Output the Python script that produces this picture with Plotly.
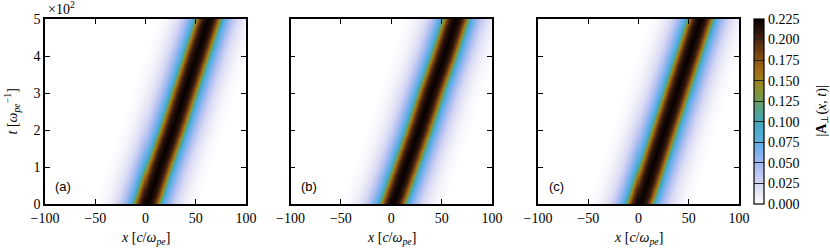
import numpy as np
import plotly.graph_objects as go

# ---------------- data ----------------
panel_labels = ["(a)", "(b)", "(c)"]
time_knots = [0, 100, 200, 300, 400, 500]
pulse_centers_a = [1, 13, 26, 38, 50, 62]
pulse_centers_b = [1, 14, 27, 39, 52, 64]
pulse_centers_c = [1, 13, 25, 37, 49, 61]
profile_offsets = [-50, -45, -40, -35, -30, -25, -22, -20, -18, -16, -14, -12, -10, -8, -5, 0,
                   5, 8, 10, 12, 14, 16, 18, 20, 22, 25, 30, 35, 40, 45, 50]
profile_values = [0.001, 0.003, 0.006, 0.012, 0.022, 0.036, 0.048, 0.058, 0.068, 0.080, 0.100,
                  0.135, 0.168, 0.190, 0.212, 0.225,
                  0.212, 0.190, 0.168, 0.135, 0.100, 0.080, 0.068, 0.058, 0.048, 0.036,
                  0.022, 0.012, 0.006, 0.003, 0.001]
x_ticks = [-100, -50, 0, 50, 100]
x_tick_text = ["−100", "−50", "0", "50", "100"]
t_ticks = [0, 100, 200, 300, 400, 500]
t_tick_text = ["0", "1", "2", "3", "4", "5"]
cbar_ticks = [0.0, 0.025, 0.05, 0.075, 0.1, 0.125, 0.15, 0.175, 0.2, 0.225]
cbar_tick_text = ["0.000", "0.025", "0.050", "0.075", "0.100", "0.125",
                  "0.150", "0.175", "0.200", "0.225"]

# ---------------- build grids ----------------
x_grid = np.arange(-100, 100.5, 1.0)
t_grid = np.arange(0, 502.5, 5.0)


def field(centers):
    c_t = np.interp(t_grid, time_knots, centers)
    z = np.array([np.interp(x_grid - c, profile_offsets, profile_values, left=0, right=0)
                  for c in c_t])
    return z


fields = [field(pulse_centers_a), field(pulse_centers_b), field(pulse_centers_c)]

colorscale = [
    [0.00, "#ffffff"],
    [0.04, "#eeedf8"],
    [0.11, "#d6d8f4"],
    [0.17, "#b9c4f1"],
    [0.24, "#95b6ef"],
    [0.30, "#6fb0ec"],
    [0.36, "#55acdc"],
    [0.42, "#48a8c4"],
    [0.47, "#48a5a2"],
    [0.53, "#5ea078"],
    [0.58, "#7a9848"],
    [0.64, "#958a22"],
    [0.69, "#a07816"],
    [0.75, "#9a6010"],
    [0.80, "#7e4812"],
    [0.86, "#5a3010"],
    [0.92, "#34180c"],
    [1.00, "#060000"],
]

W, H = 830, 250
x_domains = [[45 / W, 246 / W], [290.5 / W, 492 / W], [538 / W, 739 / W]]
y_domain = [1 - 204 / H, 1 - 19 / H]
serif = "Liberation Serif"

fig = go.Figure()
for i, z in enumerate(fields):
    xa = "x" if i == 0 else f"x{i+1}"
    ya = "y" if i == 0 else f"y{i+1}"
    fig.add_trace(go.Heatmap(
        x=x_grid, y=t_grid, z=z, xaxis=xa, yaxis=ya,
        colorscale=colorscale, zmin=0, zmax=0.225, zsmooth="best",
        showscale=(i == 2), hoverinfo="skip",
        colorbar=dict(
            x=754 / W, xanchor="left", xpad=0,
            y=(y_domain[0] + y_domain[1]) / 2, yanchor="middle", ypad=0,
            len=y_domain[1] - y_domain[0], lenmode="fraction",
            thickness=10, outlinewidth=1.2, outlinecolor="black",
            tickvals=cbar_ticks, ticktext=cbar_tick_text,
            ticks="inside", ticklen=10, tickwidth=1, tickcolor="#222",
            tickfont=dict(family=serif, size=14, color="black"),
        ),
    ))

axis_common = dict(showline=True, linecolor="black", linewidth=1.5, mirror="ticks",
                   ticks="inside", ticklen=5, tickwidth=1, tickcolor="black",
                   showgrid=False, zeroline=False, automargin=False,
                   tickfont=dict(family=serif, size=14, color="black"))
layout = dict(width=W, height=H, margin=dict(l=0, r=0, t=0, b=0, autoexpand=False),
              paper_bgcolor="white", plot_bgcolor="white", showlegend=False)
for i in range(3):
    sx = "xaxis" if i == 0 else f"xaxis{i+1}"
    sy = "yaxis" if i == 0 else f"yaxis{i+1}"
    ya = "y" if i == 0 else f"y{i+1}"
    xa = "x" if i == 0 else f"x{i+1}"
    layout[sx] = dict(axis_common, domain=x_domains[i], anchor=ya, range=[-100, 100],
                      tickvals=x_ticks, ticktext=x_tick_text)
    layout[sy] = dict(axis_common, domain=y_domain, anchor=xa, range=[0, 500],
                      tickvals=t_ticks, ticktext=t_tick_text if i == 0 else [""] * 6,
                      showticklabels=(i == 0))
fig.update_layout(**layout)

ann = []
xlabel = "<i>x</i> [<i>c</i>/<i>ω</i><sub><i>pe</i></sub>]"
for i in range(3):
    cx = (x_domains[i][0] + x_domains[i][1]) / 2
    ann.append(dict(x=cx, y=1 - 238 / H, xref="paper", yref="paper", text=xlabel,
                    showarrow=False, font=dict(family=serif, size=14, color="black"),
                    xanchor="center", yanchor="middle"))
    xr = "x" if i == 0 else f"x{i+1}"
    yr = "y" if i == 0 else f"y{i+1}"
    ann.append(dict(x=-82, y=46, xref=xr, yref=yr, text=panel_labels[i], showarrow=False,
                    font=dict(family="Liberation Sans", size=13, color="black"),
                    xanchor="center", yanchor="middle"))
ann.append(dict(x=13 / W, y=(y_domain[0] + y_domain[1]) / 2, xref="paper", yref="paper",
                text="<i>t</i> [<i>ω</i><sub><i>pe</i></sub><sup>−1</sup>]", textangle=-90,
                showarrow=False, font=dict(family=serif, size=14, color="black"),
                xanchor="center", yanchor="middle"))
ann.append(dict(x=46 / W, y=1 - 8 / H, xref="paper", yref="paper",
                text="×10<sup>2</sup>", showarrow=False,
                font=dict(family=serif, size=14, color="black"),
                xanchor="left", yanchor="middle"))
ann.append(dict(x=822 / W, y=(y_domain[0] + y_domain[1]) / 2, xref="paper", yref="paper",
                text="|<b>A</b><sub>⊥</sub>(<i>x</i>, <i>t</i>)|", textangle=-90,
                showarrow=False, font=dict(family=serif, size=14, color="black"),
                xanchor="center", yanchor="middle"))
fig.update_layout(annotations=ann)

fig.write_html("out.html", config={"displayModeBar": False},
               post_script="document.body.style.margin='0px';document.body.style.overflow='hidden';")
